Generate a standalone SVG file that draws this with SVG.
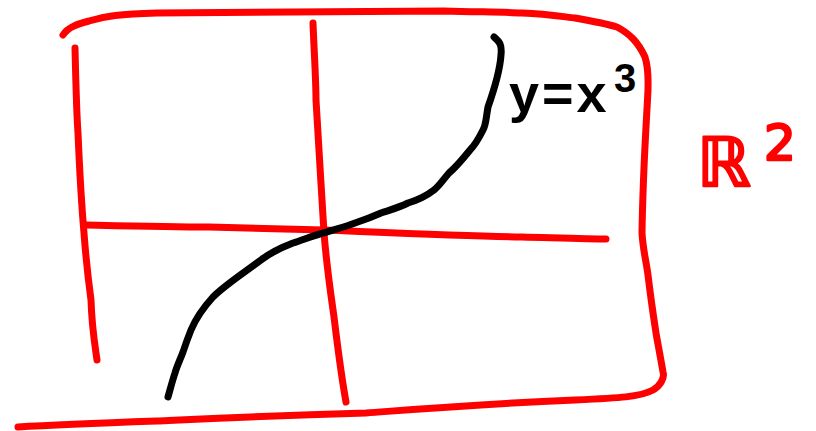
<svg xmlns="http://www.w3.org/2000/svg" width="816" height="431" viewBox="0 0 816 431">
<style>
.r{fill:none;stroke:#ff0000;stroke-width:7;stroke-linecap:round;stroke-linejoin:round}
.k{fill:none;stroke:#000;stroke-width:7;stroke-linecap:round;stroke-linejoin:round}
.tk{font-family:"Liberation Sans",Arial,sans-serif;fill:#000;font-weight:bold}
.tr{font-family:"DejaVu Sans","Liberation Sans",sans-serif;fill:#ff0000;stroke:#ff0000;stroke-width:2.5;stroke-linejoin:round}
</style>
<rect width="816" height="431" fill="#fff"/>
<g id="frame">
<path class="r" d="M63,35 C68,27 78,24 89,21 C105,16 120,14 157,13 L444,11 C480,12 505,12 522,13 C548,14 565,17 575,18 C592,21 607,24 617,27 C630,34 638,42 645,57 C649,70 648,80 648,90 C646,130 643,170 642,233 C643,250 646,260 648,275 C651,300 654,320 656,333 C659,350 661,360 663,372 C665,378 660,386 653,390 C640,397 620,398 575,400 C480,404 420,409 366,413 C260,416 200,419 157,421 C100,423 50,425 18,427"/>
<path class="r" d="M75,48 C76,90 77,120 78,133 C80,180 82,210 84,233 C86,260 89,285 91,300 C92,330 95,345 97,360"/>
<path class="r" d="M313,23 C314,50 316,80 316,100 C318,130 319,150 320,167 C322,200 323,215 324,233 C327,270 331,295 334,317 C338,350 342,380 346,402"/>
<path class="r" d="M86,225 C130,226 170,227 209,227 C250,228 290,229 324,230 C400,233 470,236 522,237 C560,238 590,239 606,239"/>
</g>
<g id="curve">
<path class="k" d="M494,37 C500,42 502,45 501,55 C500,70 494,90 488,107 C486,118 486,125 483,130 C478,140 475,145 470,150 C462,160 456,167 449,173 C442,181 440,185 434,190 C425,197 418,200 408,203 C398,208 390,210 381,213 C372,217 364,220 355,223 C345,227 336,229 327,232 C314,235 303,240 293,243 C280,248 270,253 261,260 C245,272 225,285 213,297 C203,308 196,318 191,330 C187,340 185,346 183,352 C180,360 177,366 175,373 C172,382 170,390 168,397"/>
</g>
<g id="label-cubic">
<text class="tk" x="509" y="112" font-size="54" letter-spacing="3">y=x</text>
<text class="tk" x="614" y="92" font-size="40">3</text>
</g>
<g id="label-r2">
<text class="tr" x="697" y="186" font-size="68">ℝ</text>
<text class="tr" x="764" y="160" font-size="50">2</text>
</g>
</svg>
